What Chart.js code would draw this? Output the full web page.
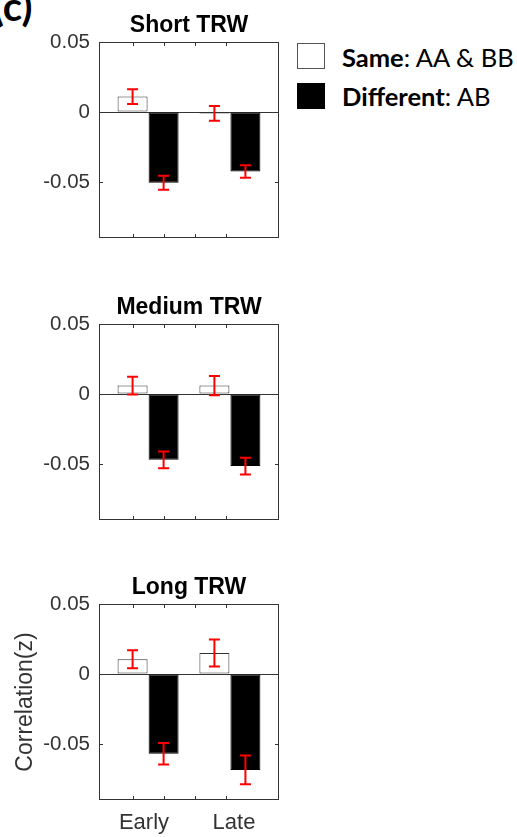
<!DOCTYPE html>
<html><head><meta charset="utf-8">
<script src="https://cdn.jsdelivr.net/npm/chart.js@4/dist/chart.umd.min.js"></script>
<style>
html,body{margin:0;padding:0;background:#fff;}
body{width:517px;height:837px;overflow:hidden;position:relative;}
canvas{position:absolute;left:0;}
#lbl{position:absolute;left:-7px;top:-18px;font-family:Lato,sans-serif;font-weight:bold;font-size:40px;line-height:1.2;color:#000;}
.lg{position:absolute;left:297px;font-family:Lato,sans-serif;font-size:25.5px;line-height:1.2;color:#000;white-space:nowrap;}
.sw{position:absolute;left:0;width:26px;height:24px;border:1px solid #555;}
.lt{position:absolute;left:45px;}
</style></head><body>
<div id="lbl">(c)</div>
<div class="lg" style="top:43px"><div class="sw" style="background:#fff"></div><div class="lt" style="top:-1.5px"><b>Same</b>: AA &amp; BB</div></div>
<div class="lg" style="top:83px"><div class="sw" style="background:#000;border-color:#000"></div><div class="lt" style="top:-2px"><b>Different</b>: AB</div></div>
<canvas id="c1" width="290" height="250" style="top:0px"></canvas>
<canvas id="c2" width="290" height="250" style="top:282px"></canvas>
<canvas id="c3" width="290" height="275" style="top:562px"></canvas>
<script>
const categories = ['Early', 'Late'];
const groupPositions = [1, 2];
const xLimits = [0.4, 2.6];
const panelTitles = ['Short TRW', 'Medium TRW', 'Long TRW'];
const seriesNames = ['Same: AA & BB', 'Different: AB'];
const yTitle = 'Correlation(z)';

const shortSame = [0.011, -0.001];
const shortSameErr = [0.0053, 0.0052];
const shortDiff = [-0.0505, -0.0425];
const shortDiffErr = [0.005, 0.0044];

const mediumSame = [0.006, 0.006];
const mediumSameErr = [0.0063, 0.0069];
const mediumDiff = [-0.047, -0.0515];
const mediumDiffErr = [0.006, 0.006];

const longSame = [0.0105, 0.015];
const longSameErr = [0.0064, 0.0097];
const longDiff = [-0.057, -0.0685];
const longDiffErr = [0.0077, 0.0102];

const yTickValues = [-0.05, 0, 0.05];
const yTickLabels = ['-0.05', '0', '0.05'];
const yMin = -0.09, yMax = 0.05;

const FONT = "'Liberation Sans', Arial, sans-serif";
const AXIS = '#333333';

const framePlugin = {
  id: 'frame',
  afterDraw(chart) {
    const {ctx, chartArea: a} = chart;
    const ys = chart.scales.y;
    ctx.save();
    ctx.strokeStyle = AXIS;
    ctx.lineWidth = 1;
    ctx.strokeRect(Math.round(a.left) + 0.5, Math.round(a.top) + 0.5,
      Math.round(a.right - a.left) - 1, Math.round(a.bottom - a.top) - 1);
    ctx.beginPath();
    yTickValues.forEach(v => {
      const y = Math.round(ys.getPixelForValue(v)) + 0.5;
      ctx.moveTo(a.left, y); ctx.lineTo(a.left + 4, y);
      ctx.moveTo(a.right, y); ctx.lineTo(a.right - 4, y);
    });
    const m0 = chart.getDatasetMeta(0).data, m1 = chart.getDatasetMeta(1).data;
    const x1 = m0[0].x, d = m1[0].x - m0[0].x;
    for (let k = 0; k < 4; k++) {
      const x = Math.round(x1 + k * d) + 0.5;
      ctx.moveTo(x, a.top); ctx.lineTo(x, a.top + 4);
      ctx.moveTo(x, a.bottom); ctx.lineTo(x, a.bottom - 4);
    }
    ctx.stroke();
    ctx.restore();
  }
};

const errorPlugin = {
  id: 'errbars',
  afterDatasetsDraw(chart) {
    const {ctx} = chart;
    const ys = chart.scales.y;
    ctx.save();
    ctx.strokeStyle = '#ff0000';
    ctx.lineWidth = 2;
    chart.data.datasets.forEach((ds, i) => {
      const meta = chart.getDatasetMeta(i);
      meta.data.forEach((el, j) => {
        const v = ds.data[j].y, e = ds.err[j];
        const x = el.x;
        const yt = ys.getPixelForValue(v + e), yb = ys.getPixelForValue(v - e);
        ctx.beginPath();
        ctx.moveTo(x, yt); ctx.lineTo(x, yb);
        ctx.moveTo(x - 5.5, yt); ctx.lineTo(x + 5.5, yt);
        ctx.moveTo(x - 5.5, yb); ctx.lineTo(x + 5.5, yb);
        ctx.stroke();
      });
    });
    ctx.restore();
  }
};

function toPoints(vals) {
  return vals.map((v, i) => ({x: groupPositions[i], y: v}));
}

function makePanel(id, title, same, sameErr, diff, diffErr, showX) {
  const yAxis = {
    min: yMin, max: yMax,
    afterBuildTicks(s) { s.ticks = yTickValues.map(v => ({value: v})); },
    afterFit(s) { s.width = 99; s.paddingTop = 0; s.paddingBottom = 0; },
    ticks: {
      font: {family: FONT, size: 20.5}, color: AXIS, padding: 9,
      callback(v) { return yTickLabels[yTickValues.indexOf(v)]; }
    },
    grid: {
      drawTicks: false,
      color(c) { return c.tick && c.tick.value === 0 ? AXIS : 'rgba(0,0,0,0)'; },
      lineWidth: 1
    },
    border: {display: false}
  };
  if (showX) {
    yAxis.title = {display: true, text: yTitle, font: {family: FONT, size: 23}, color: AXIS, padding: {top: 12, bottom: 0}};
  }
  new Chart(document.getElementById(id), {
    type: 'bar',
    data: {
      labels: categories,
      datasets: [
        {label: seriesNames[0], data: toPoints(same), err: sameErr, xAxisID: 'xb',
          backgroundColor: '#ffffff', borderColor: AXIS, borderWidth: 1, borderSkipped: false},
        {label: seriesNames[1], data: toPoints(diff), err: diffErr, xAxisID: 'xb',
          backgroundColor: '#000000', borderColor: '#000000', borderWidth: 1, borderSkipped: false}
      ]
    },
    options: {
      responsive: false,
      animation: false,
      devicePixelRatio: 1,
      layout: {padding: {top: 12, left: 0, right: 11, bottom: showX ? 0 : 12}},
      categoryPercentage: 0.758,
      barPercentage: 0.967,
      plugins: {
        legend: {display: false},
        tooltip: {enabled: false},
        title: {display: true, text: title, fullSize: false, color: '#000',
          font: {family: FONT, size: 23, weight: 'bold', lineHeight: 1.2}, padding: {top: 0, bottom: 2.4}}
      },
      scales: {
        xb: {
          type: 'linear', position: 'bottom', display: false,
          min: xLimits[0], max: xLimits[1], offset: false,
          afterBuildTicks(s) { s.ticks = groupPositions.map(v => ({value: v})); }
        },
        x: {
          type: 'category', position: 'bottom',
          display: showX,
          afterFit(s) { if (showX) s.height = 37; },
          ticks: {font: {family: FONT, size: 22}, color: AXIS, padding: 10},
          grid: {display: false, drawTicks: false},
          border: {display: false}
        },
        y: yAxis
      }
    },
    plugins: [framePlugin, errorPlugin]
  });
}

makePanel('c1', panelTitles[0], shortSame, shortSameErr, shortDiff, shortDiffErr, false);
makePanel('c2', panelTitles[1], mediumSame, mediumSameErr, mediumDiff, mediumDiffErr, false);
makePanel('c3', panelTitles[2], longSame, longSameErr, longDiff, longDiffErr, true);
</script>
</body></html>
